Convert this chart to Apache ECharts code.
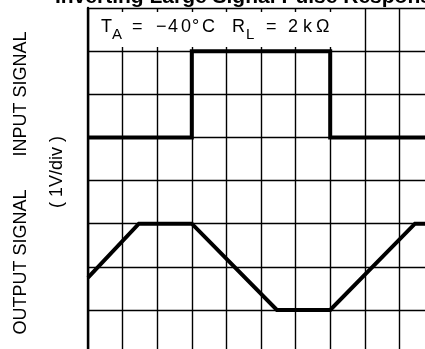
<!DOCTYPE html>
<html>
<head>
<meta charset="utf-8">
<script src="https://cdn.jsdelivr.net/npm/echarts@6/dist/echarts.min.js"></script>
<style>
  html, body { margin: 0; padding: 0; background: #fff; overflow: hidden; width: 425px; height: 349px; }
  /* the graticule runs past the right and bottom edges of the window */
  #chart { width: 440px; height: 360px; }
</style>
</head>
<body>
<div id="chart"></div>
<script>
// Scope trace: time in horizontal divisions, amplitude in vertical divisions (1 V/div)
const inputTimes   = [0, 3, 3, 7, 7, 10];
const inputLevels  = [5, 5, 7, 7, 5, 5];
const outputTimes  = [0, 1.47, 3.0, 5.46, 7.0, 9.45, 10];
const outputLevels = [1.75, 3, 3, 1, 1, 3, 3];
const xDivisions = 10;
const yDivisions = 8;

const FONT = '"Liberation Sans", Arial, sans-serif';
const pair = (xs, ys) => xs.map((x, i) => [x, ys[i]]);

// Test-condition legend inside the top row of the graticule
const conditionGlyphs = [
  ['T', 101, 18, 27], ['A', 112, 15, 35], ['=', 132, 18, 27],
  ['\u2212', 156, 18, 27], ['4', 168, 18, 27], ['0', 181, 18, 27],
  ['\u00B0', 192, 18, 27], ['C', 202, 18, 27],
  ['R', 232, 18, 27], ['L', 246, 15, 35], ['=', 266, 18, 27],
  ['2', 288, 18, 27], ['k', 303, 18, 27], ['\u03A9', 316, 18, 27]
];

const chart = echarts.init(document.getElementById('chart'), null, { renderer: 'canvas' });

const gridLine = { show: true, lineStyle: { color: '#000', width: 1.4 } };

chart.setOption({
  backgroundColor: '#fff',
  animation: false,
  grid: { left: 88, top: 8, width: 346, height: 345, containLabel: false },
  xAxis: {
    type: 'value', min: 0, max: xDivisions, interval: 1, position: 'top',
    axisLine: { show: true, lineStyle: { color: '#000', width: 2.4 } },
    axisTick: { show: false }, axisLabel: { show: false },
    splitLine: gridLine
  },
  yAxis: {
    type: 'value', min: 0, max: yDivisions, interval: 1, position: 'left',
    axisLine: { show: true, lineStyle: { color: '#000', width: 2.4 } },
    axisTick: { show: false }, axisLabel: { show: false },
    splitLine: gridLine
  },
  series: [
    {
      name: 'Input', type: 'line', data: pair(inputTimes, inputLevels),
      symbol: 'none', clip: true, z: 5,
      lineStyle: { color: '#000', width: 4, join: 'miter' }
    },
    {
      name: 'Output', type: 'line', data: pair(outputTimes, outputLevels),
      symbol: 'none', clip: true, z: 5,
      lineStyle: { color: '#000', width: 4, join: 'miter' }
    }
  ],
  graphic: [
    {
      type: 'text', x: 55, y: -3, z: 100,
      style: { text: 'Inverting Large Signal Pulse Response', fill: '#000',
               font: 'bold 21px ' + FONT, align: 'left', verticalAlign: 'middle',
               textAlign: 'left', textVerticalAlign: 'middle' }
    },
    {
      type: 'rect', z: 90,
      shape: { x: 90, y: 12, width: 273, height: 35 },
      style: { fill: '#fff' }
    },
    ...conditionGlyphs.map(([t, x, size, y]) => ({
      type: 'text', x, y, z: 100,
      style: { text: t, fill: '#000', font: size + 'px ' + FONT,
               align: 'left', verticalAlign: 'middle',
               textAlign: 'left', textVerticalAlign: 'middle' }
    })),
    {
      type: 'text', x: 21, y: 94, rotation: Math.PI / 2, z: 100,
      style: { text: 'INPUT SIGNAL', fill: '#000', font: '18px ' + FONT,
               align: 'center', verticalAlign: 'middle',
               textAlign: 'center', textVerticalAlign: 'middle' }
    },
    {
      type: 'text', x: 21, y: 262, rotation: Math.PI / 2, z: 100,
      style: { text: 'OUTPUT SIGNAL', fill: '#000', font: '18px ' + FONT,
               align: 'center', verticalAlign: 'middle',
               textAlign: 'center', textVerticalAlign: 'middle' }
    },
    {
      type: 'text', x: 57, y: 172, rotation: Math.PI / 2, z: 100,
      style: { text: '( 1V/div )', fill: '#000', font: '18px ' + FONT,
               align: 'center', verticalAlign: 'middle',
               textAlign: 'center', textVerticalAlign: 'middle' }
    }
  ]
});
</script>
</body>
</html>
